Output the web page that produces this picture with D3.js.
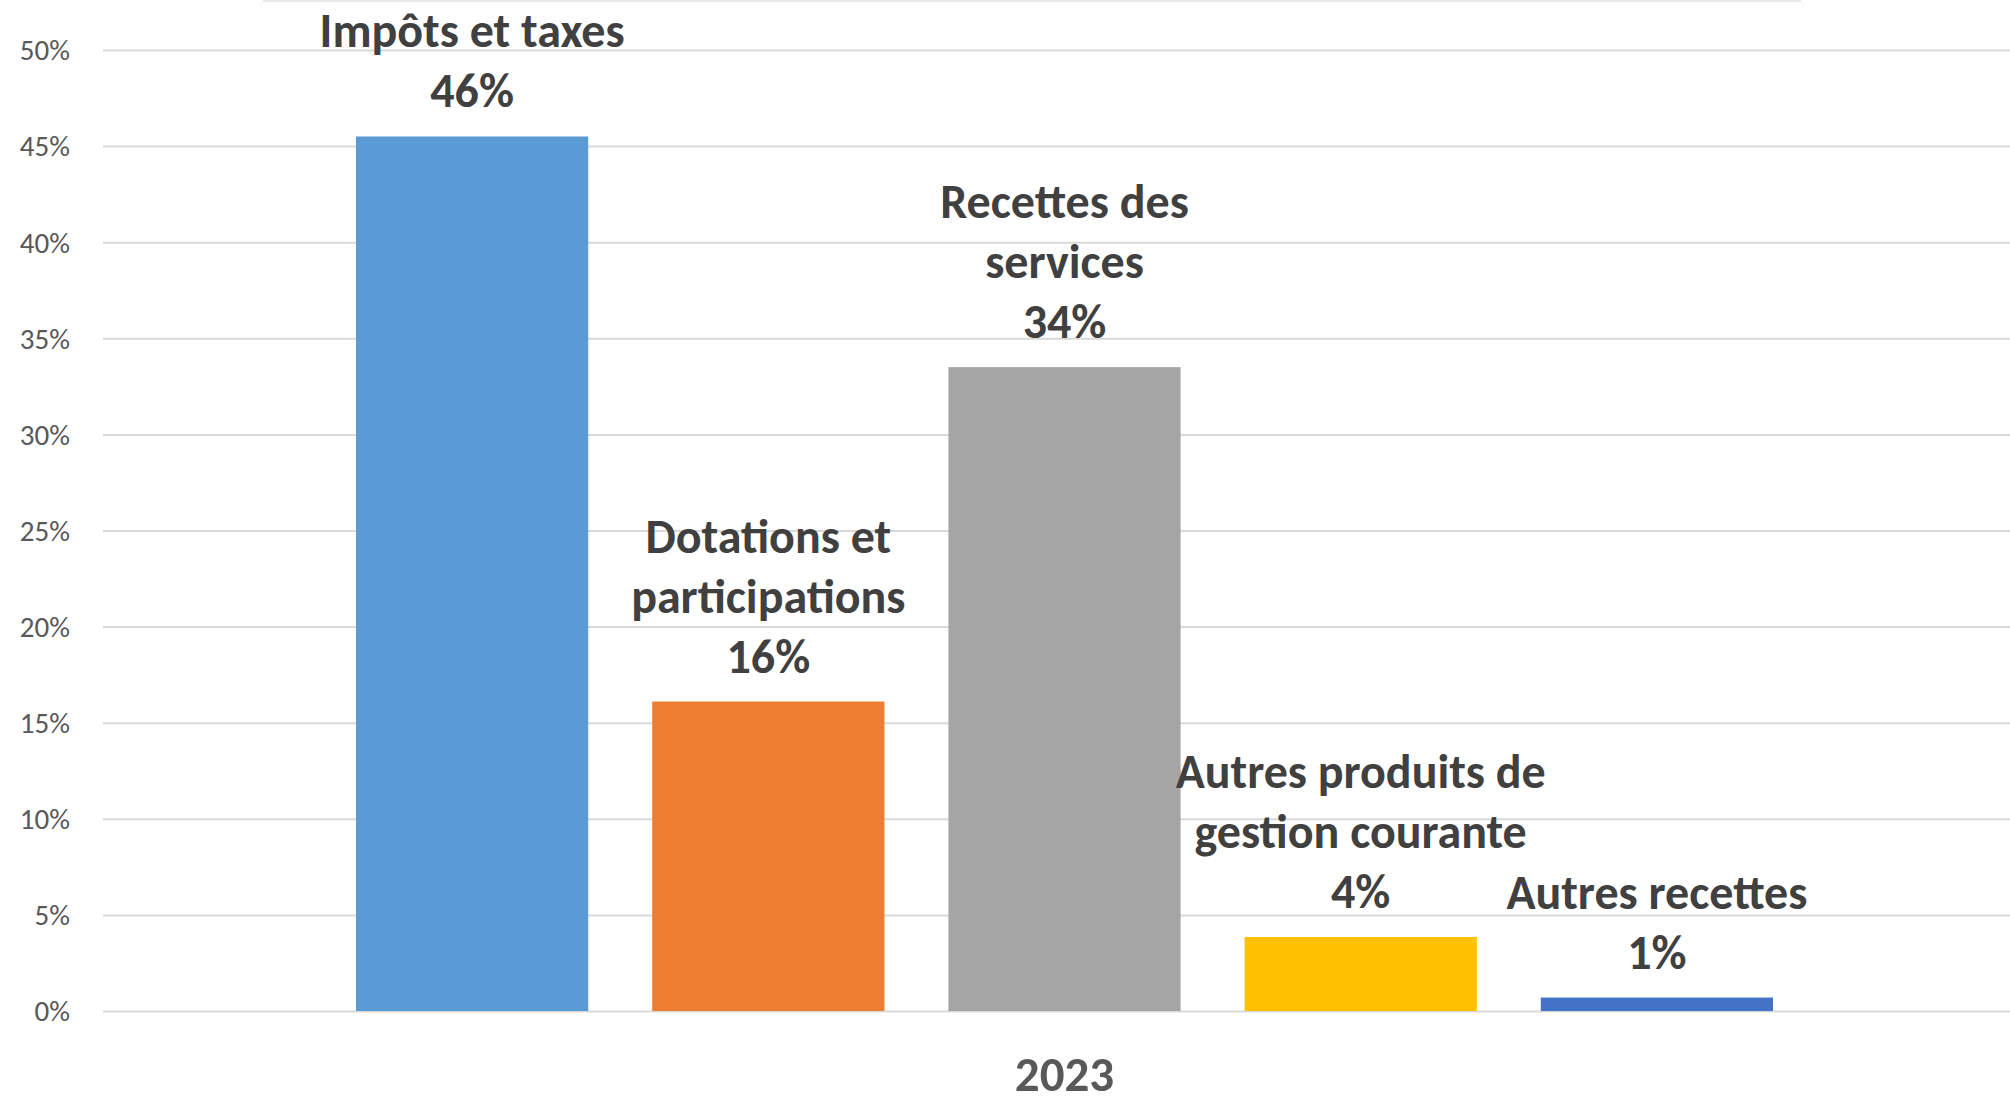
<!DOCTYPE html>
<html>
<head>
<meta charset="utf-8">
<script src="https://cdn.jsdelivr.net/npm/d3@7"></script>
<style>
  body { margin: 0; background: #fff; }
  svg { display: block; }
  .tick text { font-family: Carlito, Calibri, Lato, sans-serif; }
</style>
</head>
<body>
<script>
// recettes 2023 - share of each category
var categories = ["Impôts et taxes", "Dotations et participations", "Recettes des services",
                  "Autres produits de gestion courante", "Autres recettes"];
var labelLines = [["Impôts et taxes"], ["Dotations et", "participations"], ["Recettes des", "services"],
                  ["Autres produits de", "gestion courante"], ["Autres recettes"]];
var values = [45.5, 16.1, 33.5, 3.85, 0.7];
var colors = ["#5B9BD5", "#ED7D31", "#A5A5A5", "#FFC000", "#4472C4"];
var yTicks = [0, 5, 10, 15, 20, 25, 30, 35, 40, 45, 50];
var year = "2023";

var width = 2010, height = 1103;
var font = "Carlito, Calibri, Lato, sans-serif";

var svg = d3.select("body").append("svg")
    .attr("width", width)
    .attr("height", height);

var y = d3.scaleLinear().domain([0, 50]).range([1011, 50]);
var x = d3.scaleBand().domain(categories).range([356, 1773]).paddingInner(0.216).paddingOuter(0);

// faint border left at the top of the picture
svg.append("line")
    .attr("x1", 263).attr("x2", 1801)
    .attr("y1", 1).attr("y2", 1)
    .attr("stroke", "#ebebeb").attr("stroke-width", 2);

// gridlines + y axis
var yAxis = d3.axisLeft(y)
    .tickValues(yTicks)
    .tickFormat(function(d){ return d + "%"; })
    .tickSize(-(width - 103))
    .tickPadding(33);

var gy = svg.append("g")
    .attr("transform", "translate(103,0)")
    .call(yAxis);
gy.select(".domain").remove();
gy.selectAll(".tick line").attr("stroke", "#d9d9d9").attr("stroke-width", 2);
gy.selectAll(".tick text")
    .attr("fill", "#595959")
    .style("font-size", "29px")
    .attr("dy", "0.34em");

// bars
svg.selectAll(".bar")
    .data(values)
    .enter()
    .append("rect")
    .attr("class", "bar")
    .attr("x", function(d, i){ return x(categories[i]); })
    .attr("width", x.bandwidth())
    .attr("y", function(d){ return y(d); })
    .attr("height", function(d){ return y(0) - y(d); })
    .attr("fill", function(d, i){ return colors[i]; });

// data labels: category name + rounded percentage
var lineH = 60;
var labels = svg.selectAll(".lbl")
    .data(values)
    .enter()
    .append("text")
    .attr("class", "lbl")
    .attr("text-anchor", "middle")
    .attr("fill", "#404040")
    .style("font-family", font)
    .style("font-weight", "bold")
    .style("font-size", "48px");

labels.each(function(d, i){
    var lines = labelLines[i].concat([Math.round(d) + "%"]);
    var cx = x(categories[i]) + x.bandwidth() / 2;
    var base = y(d) - 29;
    var t = d3.select(this);
    lines.forEach(function(s, j){
        t.append("tspan")
            .attr("x", cx)
            .attr("y", base - (lines.length - 1 - j) * lineH)
            .text(s);
    });
});

// category axis title
svg.append("text")
    .attr("x", (x.range()[0] + x.range()[1]) / 2)
    .attr("y", 1091)
    .attr("text-anchor", "middle")
    .attr("fill", "#595959")
    .style("font-family", font)
    .style("font-weight", "bold")
    .style("font-size", "49px")
    .text(year);
</script>
</body>
</html>
